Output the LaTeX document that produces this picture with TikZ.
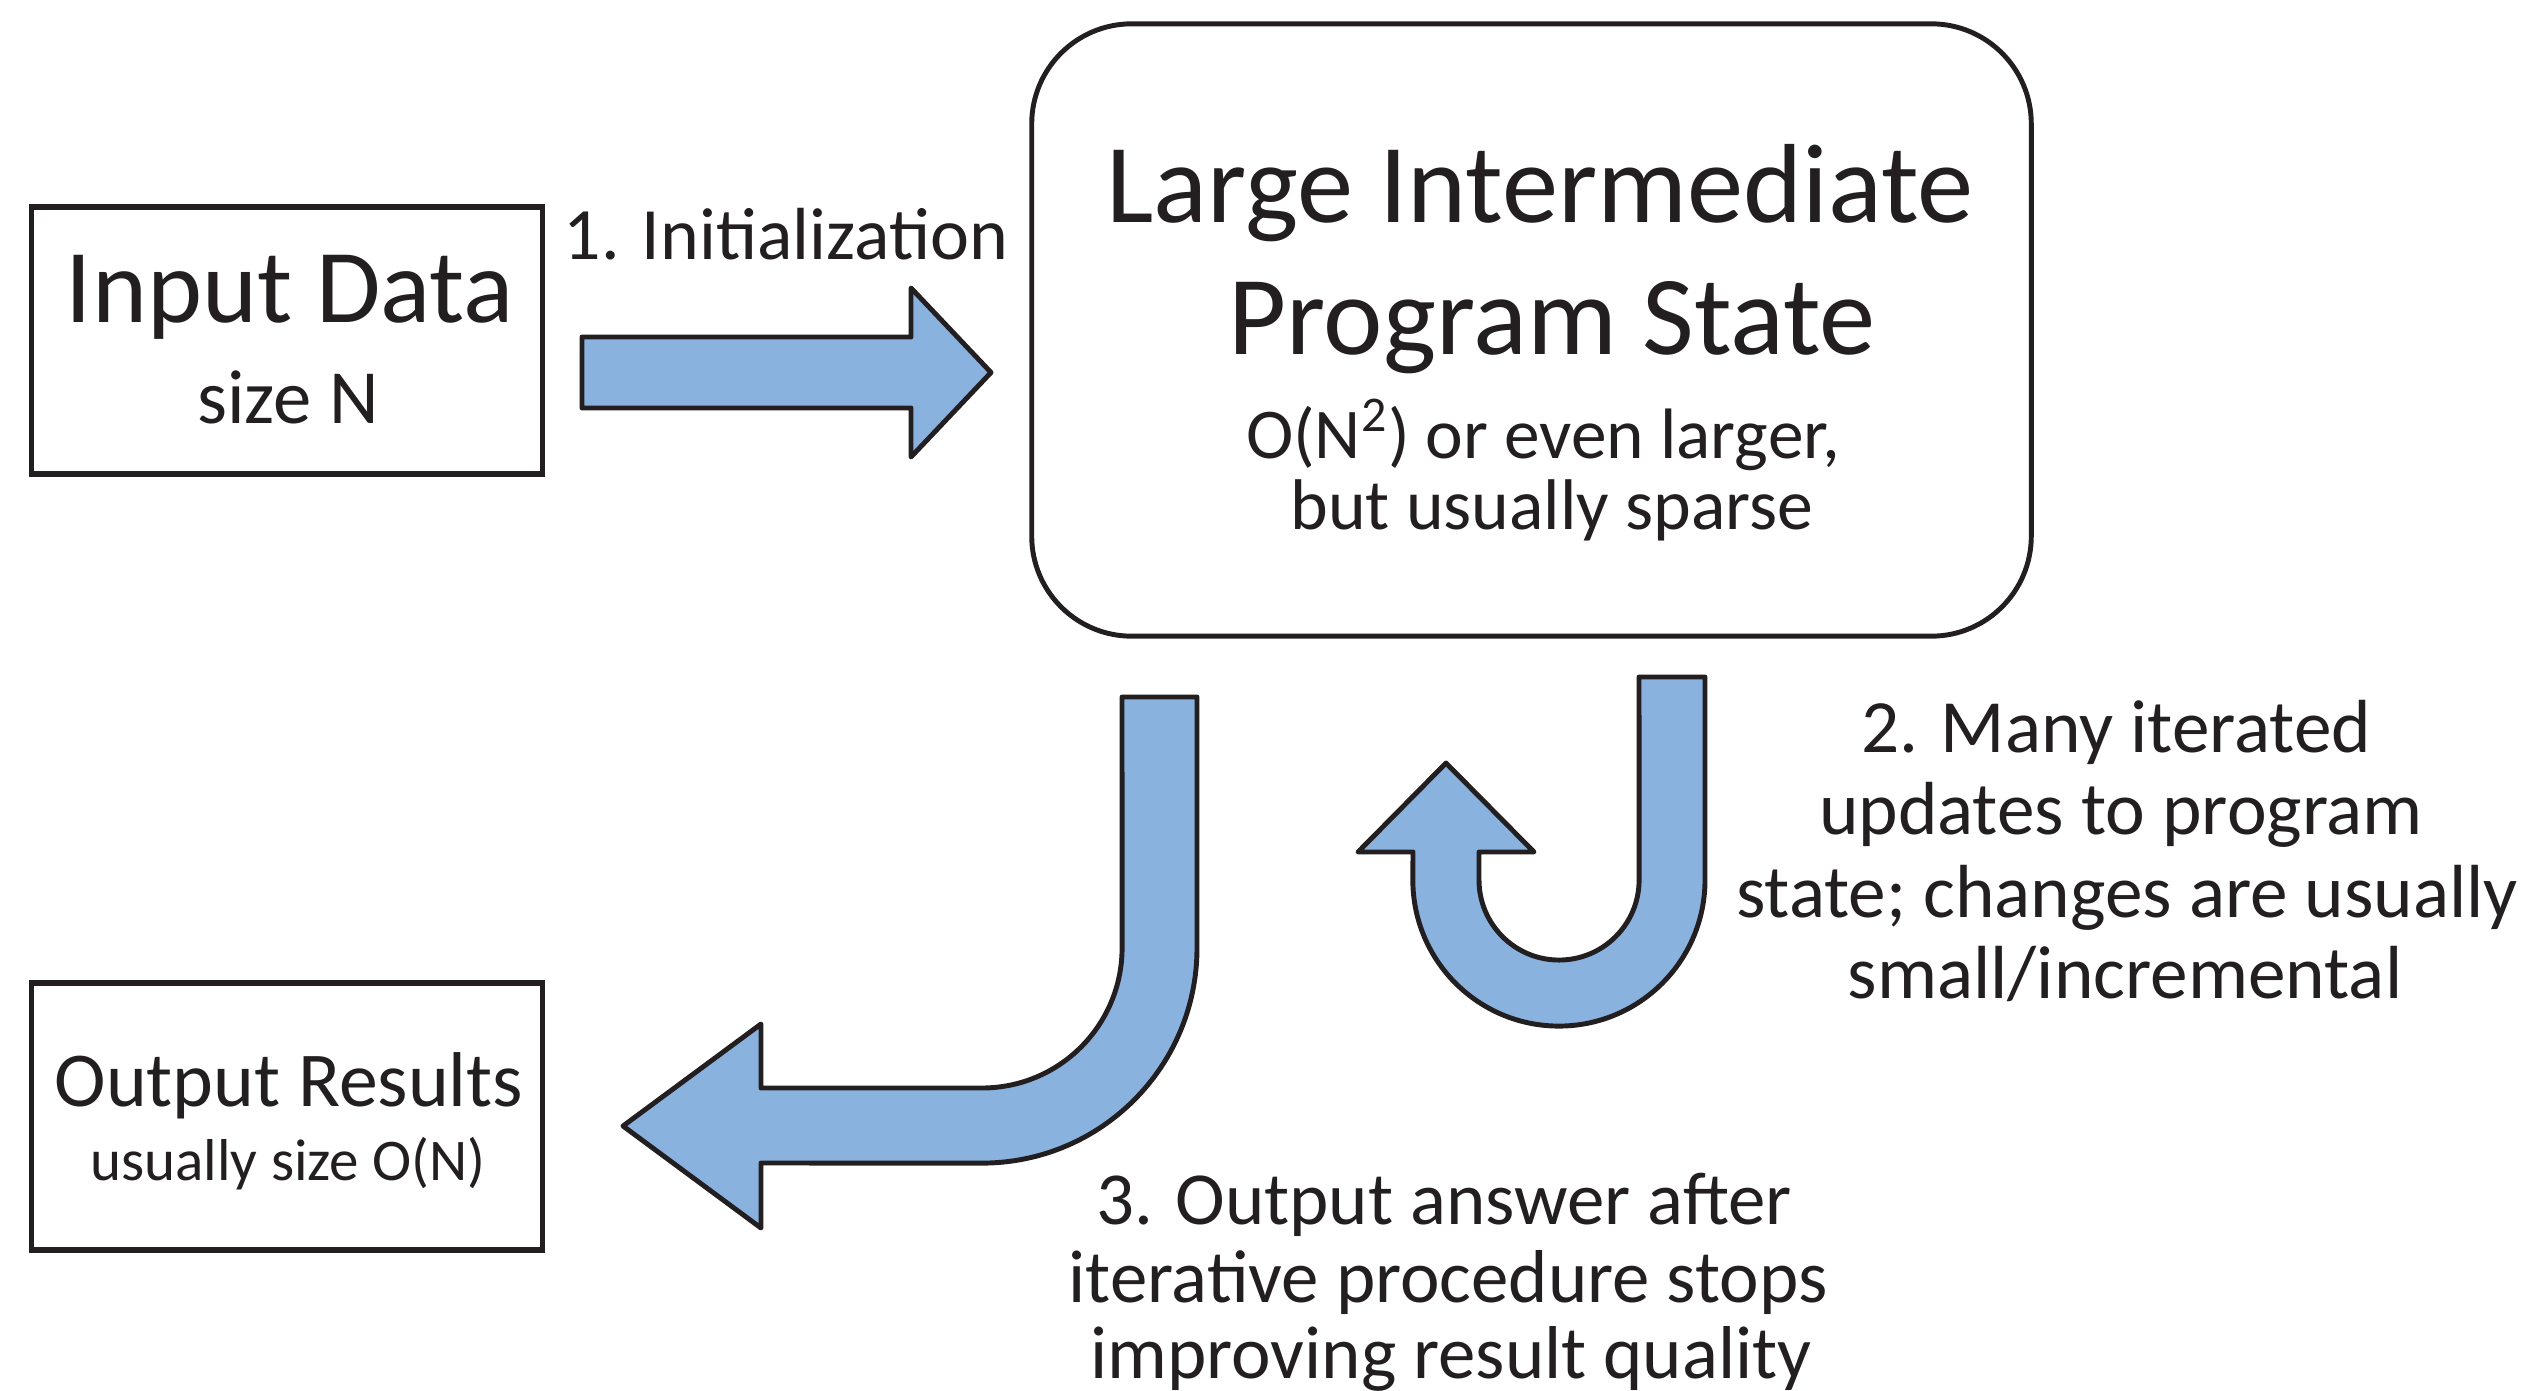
\documentclass[tikz,border=0pt]{standalone}
\usepackage{fontspec}
\setmainfont{Carlito}
\definecolor{arrowfill}{RGB}{138,178,222}
\definecolor{inkline}{RGB}{35,31,32}
\tikzset{
  boxnode/.style={draw=inkline, line width=1.5pt, minimum width=5.10cm, minimum height=2.67cm, inner sep=0pt},
  bigbox/.style={draw=inkline, line width=1.4pt, rounded corners=1cm, minimum width=9.99cm, minimum height=6.12cm, inner sep=0pt},
  blockarrow/.style={fill=arrowfill, draw=inkline, line width=1.4pt, line join=round},
  lbl/.style={anchor=base, inner sep=0pt, text=inkline},
}
\newcommand{\fs}[2]{\fontsize{#1}{#2}\selectfont}
\begin{document}
\begin{tikzpicture}[x=0.01cm, y=-0.01cm]
\useasboundingbox (0,0) rectangle (2536,1391);

% boxes
\node[boxnode] (input) at (287,340.5) {};
\node[boxnode] (output) at (287,1116.5) {};
\node[bigbox] (state) at (1531.5,330) {};

% texts in boxes
\node[lbl] (inputT) at (290,323) {\fs{29.8pt}{34pt}Input Data};
\node[lbl] (inputS) at (288,423) {\fs{21.8pt}{25pt}size N};
\node[lbl] (outputT) at (289,1106) {\fs{22.1pt}{25pt}Output Results};
\node[lbl] (outputS) at (288,1180) {\fs{16.8pt}{20pt}usually size O(N)};
\node[lbl] (stateA) at (1540,223) {\fs{32pt}{36pt}Large Intermediate};
\node[lbl] (stateB) at (1552,354) {\fs{32pt}{36pt}Program State};
\node[lbl] (stateC) at (1543,458) {\fs{20.3pt}{23pt}O(N\textsuperscript{2}) or even larger,};
\node[lbl] (stateD) at (1552,529) {\fs{20.4pt}{23pt}but usually sparse};

% step labels
\node[lbl] (step1) at (786,260) {\fs{21pt}{24pt}1. Initialization};
\node[lbl] (step2a) at (2116,752) {\fs{21.4pt}{24pt}2. Many iterated};
\node[lbl] (step2b) at (2121,834) {\fs{21.4pt}{24pt}updates to program};
\node[lbl] (step2c) at (2127,917) {\fs{21.4pt}{24pt}state; changes are usually};
\node[lbl] (step2d) at (2125,998) {\fs{21.4pt}{24pt}small/incremental};
\node[lbl] (step3a) at (1444,1224) {\fs{21.3pt}{24pt}3. Output answer after};
\node[lbl] (step3b) at (1448,1302) {\fs{21.3pt}{24pt}iterative procedure stops};
\node[lbl] (step3c) at (1451,1378) {\fs{21.3pt}{24pt}improving result quality};

% 1. initialization arrow
\draw[blockarrow] (582,337) -- (911,337) -- (911,288) -- (991,372.5) -- (911,457) -- (911,408) -- (582,408) -- cycle;

% 3. output arrow (L-shaped)
\draw[blockarrow] (1122,697) -- (1197,697) -- (1197,948)
  arc[start angle=0, end angle=-90, radius=2.15cm]
  -- (761,1163) -- (761,1228) -- (623,1126) -- (761,1024) -- (761,1088) -- (982,1088)
  arc[start angle=-90, end angle=0, radius=1.40cm]
  -- cycle;

% 2. iteration arrow (U-shaped)
\draw[blockarrow] (1639,677) -- (1705,677) -- (1705,880)
  arc[start angle=0, end angle=-180, radius=1.46cm]
  -- (1413,852) -- (1358,852) -- (1446,763) -- (1534,852) -- (1479,852) -- (1479,880)
  arc[start angle=180, end angle=360, radius=0.80cm]
  -- cycle;
\end{tikzpicture}
\end{document}
